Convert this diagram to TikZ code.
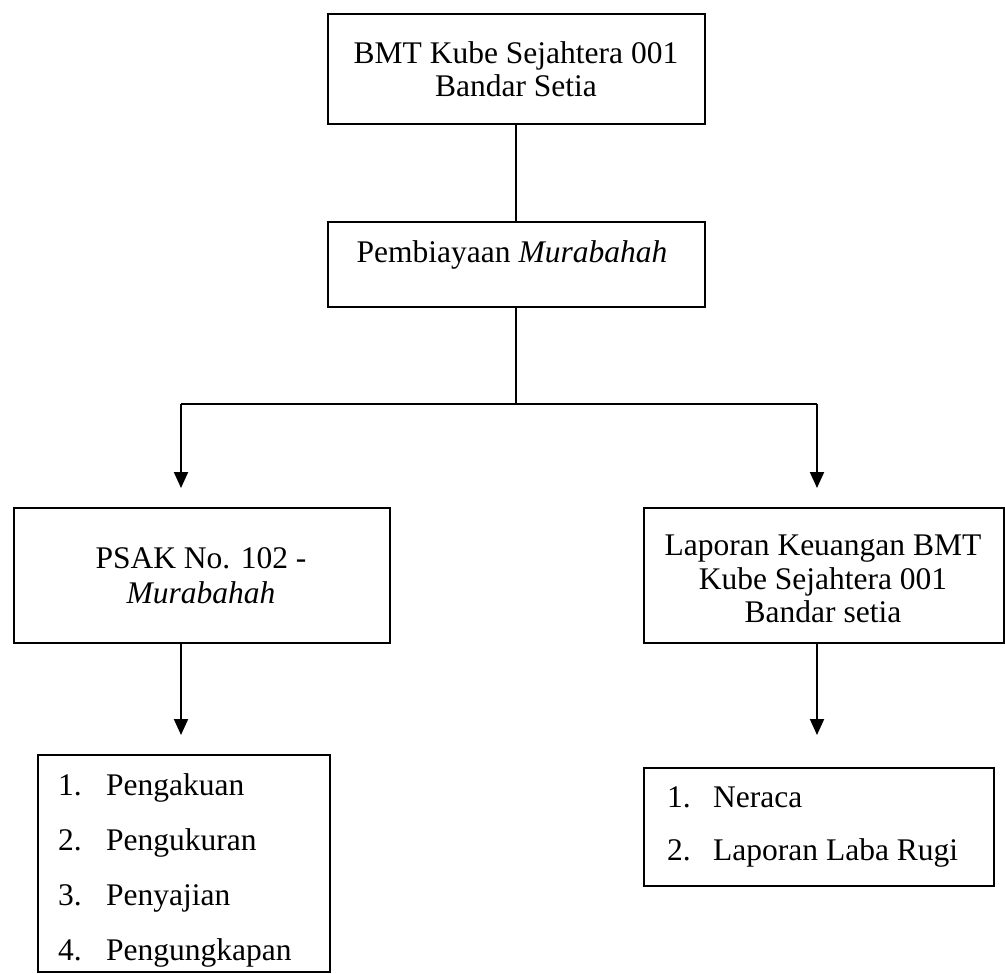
\documentclass[tikz,border=0pt]{standalone}
\usepackage{fontspec}
\setmainfont{Liberation Serif}
\usetikzlibrary{arrows.meta}
\begin{document}
\begin{tikzpicture}[x=1pt,y=-1pt,
  box/.style={draw, line width=2pt, inner sep=0pt, anchor=north west},
  txt/.style={inner sep=0pt, anchor=base, font=\fontsize{31.5}{33}\selectfont},
  ltxt/.style={inner sep=0pt, anchor=base west, font=\fontsize{31.5}{33}\selectfont},
  conn/.style={line width=2pt},
  arr/.style={conn, -{Triangle[width=14pt,length=16pt]}}]
\useasboundingbox (0,0) rectangle (1005,974);
% boxes
\node[box, minimum width=377pt, minimum height=110pt] (b1) at (327,13) {};
\node[box, minimum width=377pt, minimum height=85pt] (b2) at (327,221) {};
\node[box, minimum width=376pt, minimum height=135pt] (b3) at (13,507) {};
\node[box, minimum width=360pt, minimum height=135pt] (b4) at (643,507) {};
\node[box, minimum width=292pt, minimum height=217pt] (b5) at (37,754) {};
\node[box, minimum width=350pt, minimum height=118pt] (b6) at (643,767) {};
% texts
\node[txt] (t1a) at (516,64) {BMT Kube Sejahtera 001};
\node[txt] (t1b) at (516,97) {Bandar Setia};
\node[txt] (t2) at (512,262) {Pembiayaan \textit{Murabahah}};
\node[txt] (t3a) at (201,568) {PSAK No. 102 -};
\node[txt] (t3b) at (201,603) {\textit{Murabahah}};
\node[txt] (t4a) at (823,555) {Laporan Keuangan BMT};
\node[txt] (t4b) at (823,589) {Kube Sejahtera 001};
\node[txt] (t4c) at (823,622) {Bandar setia};
\node[ltxt] (n51) at (58,795) {1.};
\node[ltxt] (i51) at (106,795) {Pengakuan};
\node[ltxt] (n52) at (58,850) {2.};
\node[ltxt] (i52) at (106,850) {Pengukuran};
\node[ltxt] (n53) at (58,905) {3.};
\node[ltxt] (i53) at (106,905) {Penyajian};
\node[ltxt] (n54) at (58,960) {4.};
\node[ltxt] (i54) at (106,960) {Pengungkapan};
\node[ltxt] (n61) at (667,807) {1.};
\node[ltxt] (i61) at (713,807) {Neraca};
\node[ltxt] (n62) at (667,860) {2.};
\node[ltxt] (i62) at (713,860) {Laporan Laba Rugi};
% connectors
\coordinate (j) at (516,404);
\coordinate (jl) at (181,404);
\coordinate (jr) at (817,404);
\coordinate (a3) at (181,488);
\coordinate (a4) at (817,488);
\coordinate (s3) at (181,642);
\coordinate (s4) at (817,642);
\coordinate (a5) at (181,735);
\coordinate (a6) at (817,735);
\draw[conn] (b1.south -| j) -- (b2.north -| j);
\draw[conn] (b2.south -| j) -- (j);
\draw[conn] (jl) -- (jr);
\draw[arr] (jl) -- (a3);
\draw[arr] (jr) -- (a4);
\draw[arr] (s3) -- (a5);
\draw[arr] (s4) -- (a6);
\end{tikzpicture}
\end{document}
